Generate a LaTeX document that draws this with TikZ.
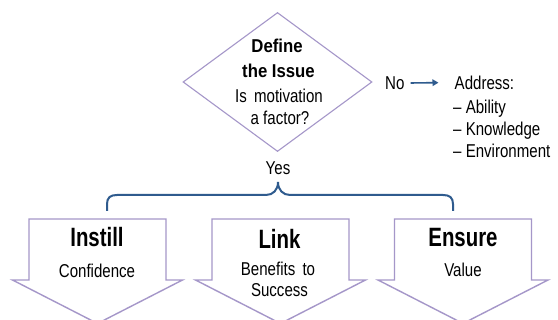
\documentclass[tikz,border=0pt]{standalone}
\usepackage{fontspec}
\setmainfont{Liberation Sans}[FakeStretch=0.81]
\newfontfamily\dfont{Liberation Sans}[FakeStretch=0.9]
\newfontfamily\tfont{Liberation Sans}[FakeStretch=0.77]
\usetikzlibrary{shapes.geometric,arrows.meta}
\definecolor{lav}{HTML}{A597C9}
\definecolor{navy}{HTML}{2F5B8E}
\tikzset{
  txt/.style={inner sep=0pt, anchor=base, font=\fontsize{18.6}{22}\selectfont, text=black},
  ltxt/.style={txt, anchor=base west},
  dtitle/.style={txt, font=\dfont\bfseries\fontsize{18.6}{22}\selectfont},
  atitle/.style={txt, font=\tfont\bfseries\fontsize{26.5}{30}\selectfont},
  issuebox/.style={diamond, draw=lav, line width=1.1pt, minimum width=189pt, minimum height=139pt, inner sep=0pt},
  downarr/.style={draw=lav, line width=1.4pt, fill=white, line join=miter},
  bracel/.style={draw=navy, line width=2pt},
  noarrow/.style={draw=navy, line width=1.6pt, -{Triangle[length=6pt,width=6.5pt]}}
}
\begin{document}
\begin{tikzpicture}[x=1pt,y=-1pt]
\path[use as bounding box, clip] (0,0) rectangle (558,320);
\fill[white] (0,0) rectangle (558,320);

% decision diamond
\node[issuebox] (issue) at (277.5,82) {};
\node[dtitle] (define) at (277,52.7) {Define};
\node[dtitle] (theissue) at (278.5,78) {the Issue};
\node[txt] (q1) at (279,103) {Is\hspace{3pt} motivation};
\node[txt] (q2) at (280,125) {a factor?};

% No branch
\node[ltxt] (no) at (385,89.3) {No};
\node[ltxt] (addr) at (454.5,89.3) {Address:};
\node[ltxt] (ab) at (453,113.3) {– Ability};
\node[ltxt] (kn) at (453,135.3) {– Knowledge};
\node[ltxt] (env) at (453,157.3) {– Environment};
\draw[noarrow] ([xshift=6pt]no.east) -- ([xshift=-16pt]addr.west);

% Yes and brace
\node[txt] (yes) at (278,175) {Yes};
\coordinate (bl) at (107,211);
\coordinate (bt) at (278,182);
\coordinate (br) at (453,211);
\draw[bracel] (bl) -- (107,204) .. controls (107,197.5) and (110.5,195) .. (117,195)
  -- (266,195) .. controls (273,195) and (278,190) .. (bt)
  .. controls (278,190) and (283,195) .. (290,195)
  -- (443,195) .. controls (449.5,195) and (453,197.5) .. (453,204) -- (br);

% down arrows
\foreach \cx in {97.5,280.5,463}{
  \draw[downarr] (\cx-68.5,219) -- (\cx+68.5,219) -- (\cx+68.5,280) -- (\cx+85,280)
    -- (\cx,323.5) -- (\cx-85,280) -- (\cx-68.5,280) -- cycle;
}
\node[atitle] (instill) at (97,246.7) {Instill};
\node[txt] (conf) at (97,277.7) {Confidence};
\node[atitle] (link) at (279.5,249) {Link};
\node[txt] (ben) at (278,275.5) {Benefits\hspace{3pt} to};
\node[txt] (succ) at (279.5,296.7) {Success};
\node[atitle] (ensure) at (463,246.7) {Ensure};
\node[txt] (val) at (463,276.7) {Value};
\end{tikzpicture}
\end{document}
